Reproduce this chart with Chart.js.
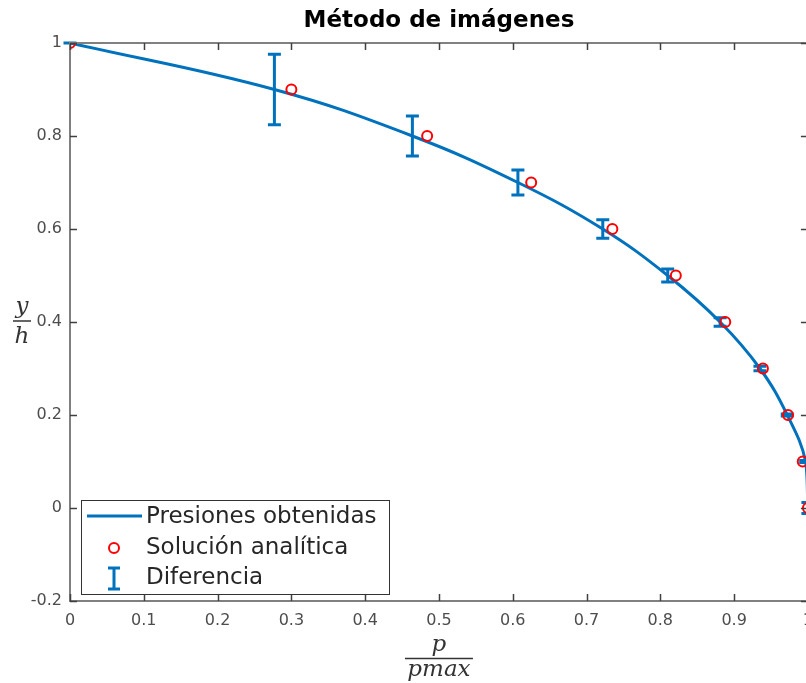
<!DOCTYPE html>
<html>
<head>
<meta charset="utf-8">
<script src="https://cdn.jsdelivr.net/npm/chart.js@4"></script>
<style>
  html, body { margin: 0; padding: 0; background: #fff; overflow: hidden; }
  #wrap { width: 823px; height: 683px; }
</style>
</head>
<body>
<div id="wrap"><canvas id="chart" width="823" height="683"></canvas></div>
<script>
// y/h levels (same for both series)
const yLevels = [1, 0.9, 0.8, 0.7, 0.6, 0.5, 0.4, 0.3, 0.2, 0.1, 0];
// p/pmax obtained (method of images)
const pObtained = [0, 0.277, 0.464, 0.607, 0.722, 0.81, 0.881, 0.935, 0.972, 0.997, 1.0];
// p/pmax analytic solution
const pAnalytic = [0, 0.300, 0.484, 0.625, 0.735, 0.821, 0.888, 0.939, 0.973, 0.993, 1.0];
// half length of the difference bars (in y/h units)
const diffHalf = [0, 0.076, 0.043, 0.027, 0.02, 0.014, 0.009, 0.005, 0.002, 0.002, 0.012];

const xTicks = [0, 0.1, 0.2, 0.3, 0.4, 0.5, 0.6, 0.7, 0.8, 0.9, 1];
const yTicks = [-0.2, 0, 0.2, 0.4, 0.6, 0.8, 1];

const BLUE = '#0072BD';
const RED = '#FF0000';
const AXIS = '#808080';
const TEXT = '#262626';

const fmt = (v) => String(+(+v).toFixed(1));

// error bars, box with inward ticks, axis labels and legend
const matlabLook = {
    id: 'matlabLook',
    afterDatasetDraw(chart, args) {
        if (args.index !== 1) return;
        const { ctx, scales: { x, y } } = chart;
        ctx.save();
        ctx.strokeStyle = BLUE;
        ctx.lineWidth = 3;
        for (let i = 0; i < yLevels.length; i++) {
            const px = x.getPixelForValue(pObtained[i]);
            const top = y.getPixelForValue(yLevels[i] + diffHalf[i]);
            const bot = y.getPixelForValue(yLevels[i] - diffHalf[i]);
            ctx.beginPath();
            ctx.moveTo(px, top); ctx.lineTo(px, bot);
            ctx.moveTo(px - 6.5, top); ctx.lineTo(px + 6.5, top);
            ctx.moveTo(px - 6.5, bot); ctx.lineTo(px + 6.5, bot);
            ctx.stroke();
        }
        ctx.restore();
    },
    afterDraw(chart) {
        const { ctx, chartArea: a, scales: { x, y } } = chart;
        ctx.save();
        // box
        ctx.strokeStyle = AXIS;
        ctx.lineWidth = 2;
        ctx.strokeRect(a.left, a.top, a.right - a.left, a.bottom - a.top);
        // inward ticks
        ctx.strokeStyle = '#404040';
        ctx.lineWidth = 1.5;
        ctx.beginPath();
        xTicks.forEach(v => {
            const px = Math.round(x.getPixelForValue(v)) + 0.5;
            ctx.moveTo(px, a.bottom); ctx.lineTo(px, a.bottom - 7);
            ctx.moveTo(px, a.top); ctx.lineTo(px, a.top + 7);
        });
        yTicks.forEach(v => {
            const py = Math.round(y.getPixelForValue(v)) + 0.5;
            ctx.moveTo(a.left, py); ctx.lineTo(a.left + 7, py);
            ctx.moveTo(a.right, py); ctx.lineTo(a.right - 7, py);
        });
        ctx.stroke();

        // axis labels as fractions
        ctx.fillStyle = '#333';
        ctx.strokeStyle = '#333';
        ctx.font = 'italic 23px "DejaVu Serif"';
        ctx.textAlign = 'center';
        ctx.textBaseline = 'alphabetic';
        const cx = (a.left + a.right) / 2;
        ctx.fillText('p', cx, 651);
        ctx.fillText('pmax', cx, 676);
        ctx.lineWidth = 1.5;
        ctx.beginPath();
        ctx.moveTo(cx - 34, 658.5); ctx.lineTo(cx + 34, 658.5);
        ctx.stroke();

        ctx.fillText('y', 22, 313);
        ctx.fillText('h', 22, 343);
        ctx.beginPath();
        ctx.moveTo(13, 321); ctx.lineTo(31, 321);
        ctx.stroke();

        // legend
        const lx = 81, ly = 500, lw = 308, lh = 94;
        ctx.fillStyle = '#fff';
        ctx.fillRect(lx, ly, lw, lh);
        ctx.strokeStyle = '#333';
        ctx.lineWidth = 1;
        ctx.strokeRect(lx + 0.5, ly + 0.5, lw, lh);

        ctx.strokeStyle = BLUE;
        ctx.lineWidth = 3;
        ctx.beginPath();
        ctx.moveTo(87, 516); ctx.lineTo(142, 516);
        ctx.stroke();

        ctx.strokeStyle = RED;
        ctx.lineWidth = 2;
        ctx.beginPath();
        ctx.arc(114, 548, 5, 0, Math.PI * 2);
        ctx.stroke();

        ctx.strokeStyle = BLUE;
        ctx.lineWidth = 3;
        ctx.beginPath();
        ctx.moveTo(114, 568); ctx.lineTo(114, 589);
        ctx.moveTo(108, 568); ctx.lineTo(120, 568);
        ctx.moveTo(108, 589); ctx.lineTo(120, 589);
        ctx.stroke();

        ctx.fillStyle = TEXT;
        ctx.font = '23px "DejaVu Sans"';
        ctx.textAlign = 'left';
        ctx.textBaseline = 'middle';
        ctx.fillText('Presiones obtenidas', 146, 517);
        ctx.fillText('Solución analítica', 146, 548);
        ctx.fillText('Diferencia', 146, 578);
        ctx.restore();
    }
};

new Chart(document.getElementById('chart'), {
    type: 'scatter',
    data: {
        datasets: [{
            label: 'Solución analítica',
            data: pAnalytic.map((p, i) => ({ x: p, y: yLevels[i] })),
            showLine: false,
            pointStyle: 'circle',
            pointRadius: 5,
            pointBorderWidth: 2,
            pointBorderColor: RED,
            pointBackgroundColor: 'rgba(0,0,0,0)'
        }, {
            label: 'Presiones obtenidas',
            data: pObtained.map((p, i) => ({ x: p, y: yLevels[i] })),
            showLine: true,
            borderColor: BLUE,
            borderWidth: 3,
            pointRadius: 0,
            tension: 0.4
        }]
    },
    options: {
        responsive: false,
        animation: false,
        events: [],
        layout: { padding: { left: 0, right: 0, top: 0, bottom: 0 } },
        plugins: {
            legend: { display: false },
            tooltip: { enabled: false },
            title: {
                display: true,
                fullSize: false,
                text: 'Método de imágenes',
                color: '#000',
                font: { family: 'DejaVu Sans', size: 23, weight: 'bold', lineHeight: 1 },
                padding: { top: 10, bottom: 10 }
            }
        },
        scales: {
            x: {
                type: 'linear',
                min: 0,
                max: 1,
                afterFit(scale) { scale.height = 82; },
                afterBuildTicks(scale) { scale.ticks = xTicks.map(v => ({ value: v })); },
                grid: { display: false, drawTicks: false },
                border: { display: false },
                ticks: {
                    padding: 10,
                    color: '#4d4d4d',
                    font: { family: 'DejaVu Sans', size: 16 },
                    maxRotation: 0,
                    autoSkip: false,
                    callback: fmt
                }
            },
            y: {
                type: 'linear',
                min: -0.2,
                max: 1,
                afterFit(scale) { scale.width = 70; },
                afterBuildTicks(scale) { scale.ticks = yTicks.map(v => ({ value: v })); },
                grid: { display: false, drawTicks: false },
                border: { display: false },
                ticks: {
                    padding: 8,
                    color: '#4d4d4d',
                    font: { family: 'DejaVu Sans', size: 16 },
                    autoSkip: false,
                    callback: fmt
                }
            }
        }
    },
    plugins: [matlabLook]
});
</script>
</body>
</html>
